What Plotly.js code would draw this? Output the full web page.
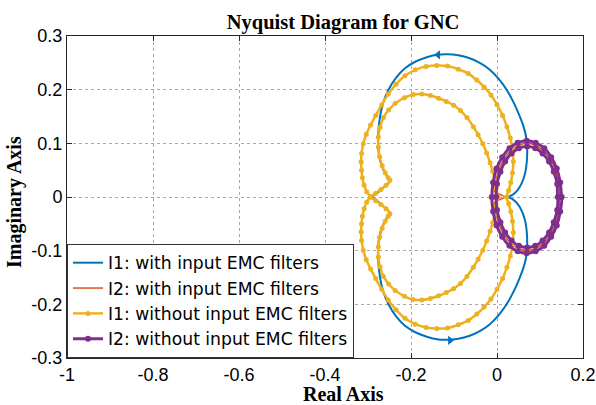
<!DOCTYPE html>
<html>
<head>
<meta charset="utf-8">
<script src="https://cdn.plot.ly/plotly-3.0.1.min.js"></script>
<style>html,body{margin:0;padding:0;background:#fff;}#chart{width:596px;height:405px;}</style>
</head>
<body>
<div id="chart"></div>
<script>
// I1 with input EMC filters (blue) - positive and negative frequency branches
const i1FiltPosX = [0.026,0.036,0.047,0.057,0.064,0.068,0.070,0.070,0.067,0.061,0.052,0.040,0.023,0.004,-0.018,-0.040,-0.065,-0.090,-0.115,-0.140,-0.165,-0.190,-0.214,-0.235,-0.253,-0.265,-0.272,-0.276,-0.276,-0.272,-0.264,-0.255,-0.249,-0.262,-0.276,-0.290];
const i1FiltPosY = [0.000,0.004,0.012,0.025,0.040,0.056,0.075,0.094,0.115,0.133,0.152,0.174,0.199,0.220,0.238,0.250,0.259,0.264,0.266,0.265,0.260,0.252,0.240,0.222,0.199,0.175,0.150,0.120,0.090,0.068,0.050,0.037,0.030,0.019,0.009,0.000];
const i1FiltNegX = [-0.276,-0.262,-0.249,-0.255,-0.264,-0.272,-0.276,-0.276,-0.272,-0.265,-0.253,-0.235,-0.214,-0.190,-0.165,-0.140,-0.115,-0.090,-0.065,-0.040,-0.018,0.004,0.023,0.040,0.052,0.061,0.067,0.070,0.070,0.068,0.064,0.057,0.047,0.036,0.026];
const i1FiltNegY = [-0.009,-0.019,-0.030,-0.037,-0.050,-0.068,-0.090,-0.120,-0.150,-0.175,-0.199,-0.222,-0.240,-0.252,-0.260,-0.265,-0.266,-0.264,-0.259,-0.250,-0.238,-0.220,-0.199,-0.174,-0.152,-0.133,-0.115,-0.094,-0.075,-0.056,-0.040,-0.025,-0.012,-0.004,0.000];

// I2 with input EMC filters (orange)
const i2FiltX = [0.146,0.143,0.136,0.124,0.108,0.090,0.070,0.050,0.032,0.016,0.004,-0.003,-0.005,0.018,-0.005,-0.003,0.004,0.016,0.032,0.050,0.070,0.090,0.108,0.124,0.136,0.143,0.146];
const i2FiltY = [0.000,0.026,0.050,0.070,0.086,0.096,0.100,0.096,0.086,0.070,0.050,0.026,0.010,0.000,-0.010,-0.026,-0.050,-0.070,-0.086,-0.096,-0.100,-0.096,-0.086,-0.070,-0.050,-0.026,0.000];

// I1 without input EMC filters (yellow)
const i1NoFiltPosX = [0.002,-0.002,-0.005,-0.010,-0.016,-0.024,-0.033,-0.044,-0.055,-0.070,-0.085,-0.101,-0.118,-0.136,-0.155,-0.175,-0.195,-0.215,-0.237,-0.252,-0.264,-0.272,-0.276,-0.276,-0.273,-0.267,-0.260,-0.253,-0.249,-0.258,-0.270,-0.282,-0.294,-0.303,-0.309,-0.313,-0.315,-0.316,-0.315,-0.311,-0.304,-0.294,-0.282,-0.268,-0.253,-0.235,-0.214,-0.190,-0.165,-0.140,-0.115,-0.090,-0.067,-0.047,-0.030,-0.014,0.000,0.013,0.023,0.031,0.036,0.038,0.036,0.032,0.027,0.022];
const i1NoFiltPosY = [0.000,0.016,0.032,0.048,0.064,0.082,0.099,0.116,0.131,0.148,0.161,0.171,0.178,0.184,0.189,0.192,0.191,0.185,0.174,0.162,0.148,0.130,0.112,0.093,0.075,0.058,0.045,0.036,0.031,0.022,0.014,0.007,0.000,-0.010,-0.022,-0.036,-0.050,-0.065,-0.081,-0.099,-0.117,-0.134,-0.152,-0.172,-0.192,-0.210,-0.226,-0.237,-0.243,-0.245,-0.244,-0.238,-0.230,-0.218,-0.205,-0.190,-0.172,-0.152,-0.131,-0.110,-0.088,-0.066,-0.045,-0.027,-0.012,0.000];
const i1NoFiltNegX = [0.027,0.032,0.036,0.038,0.036,0.031,0.023,0.013,0.000,-0.014,-0.030,-0.047,-0.067,-0.090,-0.115,-0.140,-0.165,-0.190,-0.214,-0.235,-0.253,-0.268,-0.282,-0.294,-0.304,-0.311,-0.315,-0.316,-0.315,-0.313,-0.309,-0.303,-0.294,-0.282,-0.270,-0.258,-0.249,-0.253,-0.260,-0.267,-0.273,-0.276,-0.276,-0.272,-0.264,-0.252,-0.237,-0.215,-0.195,-0.175,-0.155,-0.136,-0.118,-0.101,-0.085,-0.070,-0.055,-0.044,-0.033,-0.024,-0.016,-0.010,-0.005,-0.002,0.002];
const i1NoFiltNegY = [0.012,0.027,0.045,0.066,0.088,0.110,0.131,0.152,0.172,0.190,0.205,0.218,0.230,0.238,0.244,0.245,0.243,0.237,0.226,0.210,0.192,0.172,0.152,0.134,0.117,0.099,0.081,0.065,0.050,0.036,0.022,0.010,0.000,-0.007,-0.014,-0.022,-0.031,-0.036,-0.045,-0.058,-0.075,-0.093,-0.112,-0.130,-0.148,-0.162,-0.174,-0.185,-0.191,-0.192,-0.189,-0.184,-0.178,-0.171,-0.161,-0.148,-0.131,-0.116,-0.099,-0.082,-0.064,-0.048,-0.032,-0.016,0.000];

// I2 without input EMC filters (purple) - two close loops
const i2NoFiltOuterX = [0.150,0.147,0.139,0.126,0.110,0.090,0.069,0.048,0.029,0.012,-0.001,-0.009,-0.012,-0.009,-0.001,0.012,0.029,0.048,0.069,0.090,0.110,0.126,0.139,0.147,0.150];
const i2NoFiltOuterY = [0.000,0.027,0.053,0.074,0.091,0.101,0.105,0.101,0.091,0.074,0.053,0.027,0.000,-0.027,-0.053,-0.074,-0.091,-0.101,-0.105,-0.101,-0.091,-0.074,-0.053,-0.027,0.000];
const i2NoFiltInnerX = [0.142,0.140,0.132,0.121,0.106,0.089,0.070,0.051,0.034,0.019,0.008,0.000,-0.002,0.000,0.008,0.019,0.034,0.051,0.070,0.089,0.106,0.121,0.132,0.140,0.142];
const i2NoFiltInnerY = [0.000,0.024,0.047,0.066,0.081,0.091,0.094,0.091,0.081,0.066,0.047,0.024,0.000,-0.024,-0.047,-0.066,-0.081,-0.091,-0.094,-0.091,-0.081,-0.066,-0.047,-0.024,0.000];

// direction arrows on the blue curve
const arrowX = [-0.137, -0.109];
const arrowY = [0.265, -0.267];
const arrowSymbols = ['triangle-left', 'triangle-right'];

// axis ticks
const xTickVals = [-1, -0.8, -0.6, -0.4, -0.2, 0, 0.2];
const xTickText = ['-1', '-0.8', '-0.6', '-0.4', '-0.2', '0', '0.2'];
const yTickVals = [-0.3, -0.2, -0.1, 0, 0.1, 0.2, 0.3];
const yTickText = ['-0.3', '-0.2', '-0.1', '0', '0.1', '0.2', '0.3'];

const names = ['I1: with input EMC filters', 'I2: with input EMC filters', 'I1: without input EMC filters', 'I2: without input EMC filters'];
const colors = ['#0072BD', '#D95319', '#EDB120', '#7E2F8E'];

const traces = [
  {x: i1FiltPosX.concat(i1FiltNegX), y: i1FiltPosY.concat(i1FiltNegY), name: names[0], mode: 'lines',
   line: {color: colors[0], width: 2, shape: 'spline', smoothing: 0.8}},
  {x: i2FiltX, y: i2FiltY, name: names[1], mode: 'lines',
   line: {color: colors[1], width: 1.5, shape: 'spline', smoothing: 0.8}},
  {x: i1NoFiltPosX.concat(i1NoFiltNegX), y: i1NoFiltPosY.concat(i1NoFiltNegY), name: names[2], mode: 'lines+markers',
   line: {color: colors[2], width: 2.5, shape: 'spline', smoothing: 0.8}, marker: {color: colors[2], size: 5}},
  {x: i2NoFiltOuterX.concat(i2NoFiltInnerX), y: i2NoFiltOuterY.concat(i2NoFiltInnerY), name: names[3], mode: 'lines+markers',
   line: {color: colors[3], width: 3, shape: 'spline', smoothing: 0.8}, marker: {color: colors[3], size: 6}},
  {x: arrowX, y: arrowY, mode: 'markers', showlegend: false, hoverinfo: 'skip',
   marker: {color: colors[0], size: 8, symbol: arrowSymbols}}
];

const axisCommon = {
  showline: true, linecolor: '#262626', linewidth: 1, mirror: 'ticks',
  ticks: 'inside', ticklen: 5, tickcolor: '#262626',
  showgrid: true, gridcolor: '#a8a8a8', griddash: 'dot', gridwidth: 1,
  zeroline: false, tickmode: 'array',
  tickfont: {family: 'Liberation Sans, Arial, sans-serif', size: 18, color: '#000'}
};

const layout = {
  width: 596, height: 405,
  margin: {l: 67, r: 13, t: 36, b: 47},
  paper_bgcolor: '#fff', plot_bgcolor: '#fff',
  title: {text: 'Nyquist Diagram for GNC', x: 343/596, xref: 'container', xanchor: 'center',
          y: 1 - 22/405, yref: 'container', yanchor: 'middle',
          font: {family: 'Liberation Serif, Times New Roman, serif', size: 20.5, weight: 'bold', color: '#000'}},
  xaxis: Object.assign({}, axisCommon, {range: [-1, 0.2], tickvals: xTickVals, ticktext: xTickText}),
  yaxis: Object.assign({}, axisCommon, {range: [-0.3, 0.3], tickvals: yTickVals, ticktext: yTickText}),
  showlegend: true,
  legend: {x: 0, y: 0, xanchor: 'left', yanchor: 'bottom', bgcolor: '#fff', bordercolor: '#333', borderwidth: 1,
           itemwidth: 30, font: {family: 'DejaVu Sans, Liberation Sans, sans-serif', size: 17.2, color: '#000'}},
  annotations: [
    {text: 'Real Axis', xref: 'paper', yref: 'paper', x: (343-67)/516, y: (358-394)/322, xanchor: 'center', yanchor: 'middle',
     showarrow: false, font: {family: 'Liberation Serif, Times New Roman, serif', size: 20, weight: 'bold', color: '#000'}},
    {text: 'Imaginary Axis', xref: 'paper', yref: 'paper', x: (14-67)/516, y: (358-202)/322, xanchor: 'center', yanchor: 'middle',
     textangle: -90, showarrow: false, font: {family: 'Liberation Serif, Times New Roman, serif', size: 20, weight: 'bold', color: '#000'}}
  ]
};

Plotly.newPlot('chart', traces, layout, {displayModeBar: false, staticPlot: true});
</script>
</body>
</html>
